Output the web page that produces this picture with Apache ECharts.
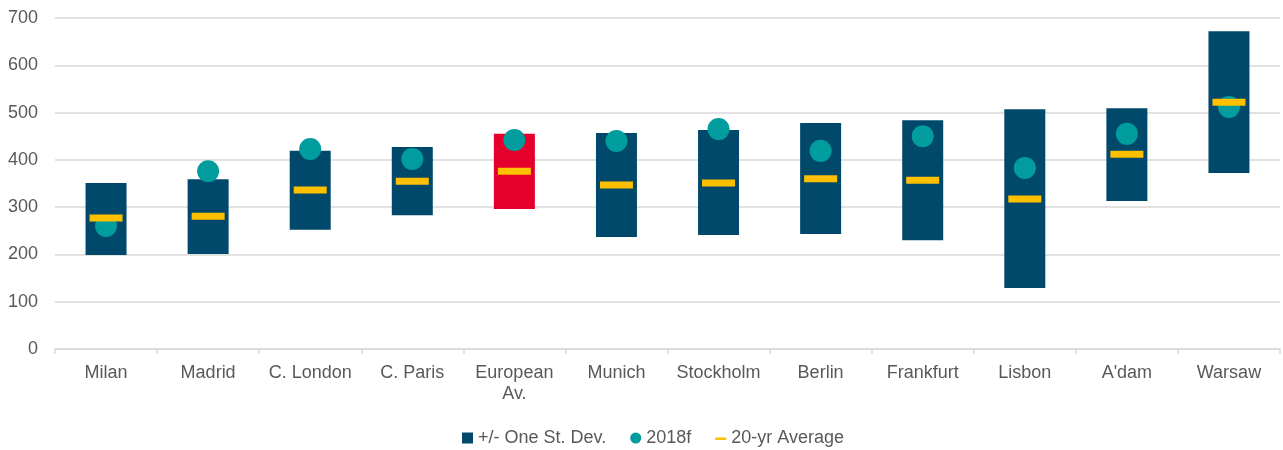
<!DOCTYPE html>
<html>
<head>
<meta charset="utf-8">
<script src="https://cdn.jsdelivr.net/npm/echarts@6/dist/echarts.min.js"></script>
<style>
  html, body { margin: 0; padding: 0; background: #fff; }
  #box { width: 1283px; height: 450px; }
</style>
</head>
<body>
<div id="box"></div>
<script>
// city names on the x axis
var cities = ['Milan', 'Madrid', 'C. London', 'C. Paris', 'European\nAv.', 'Munich',
    'Stockholm', 'Berlin', 'Frankfurt', 'Lisbon', "A'dam", 'Warsaw'];
// lower and upper end of the +/- one st. dev. band
var devLow  = [199, 201, 252, 283, 296, 237, 241, 243, 230, 129, 313, 372];
var devHigh = [351, 359, 419, 427, 455, 457, 463, 478, 484, 507, 509, 672];
// 2018 forecast dots
var forecast2018 = [260, 376, 423, 402, 442, 440, 465, 419, 450, 383, 455, 512];
// 20 year averages
var avg20 = [277, 281, 336, 355, 376, 347, 351, 360, 357, 317, 412, 522];

var textColor = '#595959';
var gridColor = '#D9D9D9';

/**
 * draw the band chart
 */
function initChart() {
    var chart = echarts.init(document.getElementById('box'));

    // height of each band, the red one is the European average
    var bandData = devHigh.map(function (h, i) {
        var item = { value: h - devLow[i] };
        if (cities[i].indexOf('European') === 0) {
            item.itemStyle = { color: '#E4002B' };
        }
        return item;
    });

    var option = {
        animation: false,
        textStyle: { fontFamily: 'Liberation Sans, Arial, sans-serif' },
        grid: { left: 55, right: 3, top: 18, bottom: 101 },
        legend: {
            top: 429,
            left: 462,
            padding: 0,
            itemWidth: 11,
            itemHeight: 11,
            itemGap: 24,
            textStyle: { color: textColor, fontSize: 18 },
            data: [
                { name: '+/- One St. Dev.', icon: 'rect' },
                { name: '2018f', icon: 'circle' },
                { name: '20-yr Average', icon: 'path://M0,0L0.01,0Z M0,5h11v2.5h-11Z M0,11L0.01,11Z' }
            ]
        },
        xAxis: {
            type: 'category',
            data: cities,
            axisLine: { lineStyle: { color: gridColor, width: 1.5 } },
            axisTick: { show: true, length: 5, lineStyle: { color: gridColor, width: 1.5 } },
            axisLabel: { color: textColor, fontSize: 18, margin: 14, lineHeight: 21, interval: 0 }
        },
        yAxis: {
            type: 'value',
            min: 0,
            max: 700,
            interval: 100,
            axisLine: { show: false },
            axisTick: { show: false },
            axisLabel: { color: textColor, fontSize: 18, margin: 17 },
            splitLine: { lineStyle: { color: gridColor, width: 1.5 } }
        },
        series: [
            {
                name: 'base',
                type: 'bar',
                stack: 'band',
                barWidth: 41,
                itemStyle: { color: 'transparent' },
                data: devLow
            },
            {
                name: '+/- One St. Dev.',
                type: 'bar',
                stack: 'band',
                barWidth: 41,
                itemStyle: { color: '#01496B' },
                data: bandData
            },
            {
                name: '2018f',
                type: 'scatter',
                symbol: 'circle',
                symbolSize: 22,
                itemStyle: { color: '#009C9E', opacity: 1 },
                z: 3,
                data: forecast2018
            },
            {
                name: '20-yr Average',
                type: 'scatter',
                symbol: 'rect',
                symbolSize: [33, 7],
                itemStyle: { color: '#FFC000', opacity: 1 },
                z: 4,
                data: avg20
            }
        ]
    };
    chart.setOption(option);
}

initChart();
</script>
</body>
</html>
